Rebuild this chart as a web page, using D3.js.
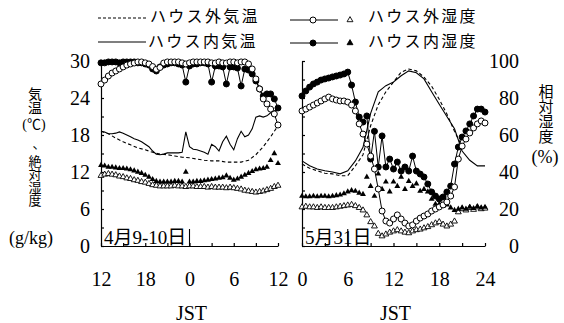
<!DOCTYPE html>
<html>
<head>
<meta charset="utf-8">
<script src="https://cdn.jsdelivr.net/npm/d3@7"></script>
<style>
  body { margin: 0; background: #fff; }
</style>
</head>
<body>
<svg id="chart" width="564" height="323"></svg>
<script>
// time axes (hours). left panel runs 12h on 4/9 to 12h on 4/10
const halfA = [12,12.5,13,13.5,14,14.5,15,15.5,16,16.5,17,17.5,18,18.5,19,19.5,20,20.5,21,21.5,22,22.5,23,23.5,24,24.5,25,25.5,26,26.5,27,27.5,28,28.5,29,29.5,30,30.5,31,31.5,32,32.5,33,33.5,34,34.5,35,35.5,36];
const hourA = [12,13,14,15,16,17,18,19,20,21,22,23,24,25,26,27,28,29,30,31,32,33,34,35,36];
const halfB = [0,0.5,1,1.5,2,2.5,3,3.5,4,4.5,5,5.5,6,6.5,7,7.5,8,8.5,9,9.5,10,10.5,11,11.5,12,12.5,13,13.5,14,14.5,15,15.5,16,16.5,17,17.5,18,18.5,19,19.5,20,20.5,21,21.5,22,22.5,23,23.5,24];
const hourB = [0,1,2,3,4,5,6,7,8,9,10,11,12,13,14,15,16,17,18,19,20,21,22,23,24];
const hourBOut = [0,1,2,3,4,5,6,7,8,9,10,11,12,13,14,15,16,17,18,19,20,21];

// 4/9-10
const tempOutA = [18.6,18.2,17.5,16.9,16.4,15.9,15.6,15.2,14.9,14.8,14.6,14.4,14.3,14.1,13.9,13.8,13.8,13.6,13.6,13.6,13.9,14.8,16.1,17.7,19.5];
const tempInA = [18.6,18.5,18.2,18.2,18.3,18.5,18.3,18.0,17.7,17.4,17.2,16.9,16.5,16.1,15.4,14.9,14.8,14.9,15.1,15.1,15.1,15.1,15.2,18.5,16.1,15.7,15.6,15.4,15.2,14.9,16.5,16.1,15.4,16.9,17.8,16.5,15.6,17.4,18.6,17.7,18.0,19.0,20.9,21.1,20.9,21.1,21.6,21.9,22.2];
const rhOutA = [87.6,89.7,91.9,93.5,94.6,95.7,96.8,97.8,98.4,98.9,99.5,99.5,99,98.4,97,95.5,96.5,98.9,99.5,99.5,99.5,99.5,99,98.4,99,99.5,99.5,99.5,99.5,99.5,99,98.9,99.5,99,98.9,99.5,99.5,99,99.5,99.5,98.4,95.7,90.3,84.9,79.5,76.8,74,71.4,65.4];
const rhInA = [99,99,99.5,99.5,99.5,99,99.5,99.5,99.5,99.5,99,99,98.4,97.8,95.7,94.6,96.8,97.8,98.4,99,99,98.4,97.8,88.6,97.3,98.4,98.4,99,99,98.4,88.6,97.3,97.3,96.8,87.6,96.8,96.8,96.2,86.5,95.7,95.1,93,89.2,84.9,81.1,82.2,82.2,79.5,74.6];
const ahOutA = [11.4,11.6,11.7,11.6,11.5,11.3,11.2,11.0,10.9,10.7,10.6,10.4,10.3,10.1,9.9,9.8,9.7,9.7,9.7,9.7,9.8,9.7,9.7,9.6,9.7,9.7,9.6,9.6,9.6,9.5,9.6,9.5,9.5,9.5,9.4,9.5,9.4,9.3,9.2,9.0,8.9,8.8,8.7,8.8,8.9,9.1,9.3,9.6,9.8];
const ahInA = [13.1,13.0,12.8,12.8,12.7,12.6,12.6,12.5,12.4,12.2,12.0,11.8,11.5,11.2,10.8,10.5,10.4,10.4,10.4,10.4,10.5,10.5,10.4,12.0,10.4,10.4,10.5,10.5,10.6,10.7,10.8,10.9,11.0,11.1,11.4,11.0,10.7,10.9,11.2,11.5,11.8,12.1,12.4,12.5,12.6,12.8,13.9,15.0,13.4];

// 5/31
const tempOutB = [13.3,12.6,12.2,11.8,11.7,11.4,11.4,13.0,14.8,19.5,22.9,25.0,26.6,28.2,28.7,28.4,27.4,25.9,23.8,21.4,18.6,16.1];
const tempInB = [13.8,13.0,12.5,12.2,12.0,11.7,12.2,13.8,16.0,21.5,25.0,26.0,26.6,27.6,28.4,28.1,27.1,25.0,23.0,21.0,19.0,15.4,13.9,13.0,13.0];
const rhOutB = [73,74,75.1,76.2,77.3,78.4,79.5,80.5,79.5,78.9,78.4,78.4,77.8,76.2,73,66,60.5,55.1,48.6,41.6,30.8,18.9,13.5,12.4,14.6,16.8,14.6,12.4,10.8,11.4,13.5,15.1,16.2,17.3,18.9,20,21.1,22.2,23.8,27,31.9,47,54,57.8,61.1,63.8,66,67.6,66.5];
const rhInB = [81.1,83.8,85.9,87.6,88.6,89.7,90.3,90.8,91.4,91.9,92.4,93,94,87,77.8,69.7,67,70.3,47,62,42.7,59.5,42.7,47,41.6,45.4,40.5,42.7,40.5,48.6,40.5,38.9,37.3,33.5,29.2,27,25.4,26.5,29.2,32.4,44.3,53.5,58.9,62.2,66,70.3,74,74,72.4];
const ahOutB = [6.3,6.4,6.3,6.3,6.2,6.3,6.2,6.2,6.2,6.3,6.4,6.5,6.6,6.7,6.5,6.2,5.8,5.0,3.9,3.2,2.0,1.6,1.9,2.2,2.4,2.6,2.4,2.2,2.1,2.4,2.6,2.7,2.9,3.1,3.4,3.7,3.9,3.5,3.2,3.5,4.0,5.5,6.0,5.8,6.2,5.9,6.3,6.0,6.1];
const ahInB = [8.1,8.0,8.0,8.1,8.0,8.1,8.1,8.0,8.1,8.2,8.3,8.5,8.8,9.0,8.9,8.6,8.4,11.2,9.7,8.1,11.7,9.2,10.4,8.8,10.4,9.7,11.2,9.2,10.5,9.7,10.1,8.9,9.2,8.8,7.6,6.8,6.8,6.5,6.7,6.2,5.8,6.0,6.2,6.0,6.3,6.1,6.4,6.2,6.3];

// ticks
const xTicksA = [12,15,18,21,24,27,30,33,36];
const xLabelsA = {12: '12', 18: '18', 24: '0', 30: '6', 36: '12'};
const xTicksB = [0,3,6,9,12,15,18,21,24];
const xLabelsB = {0: '0', 6: '6', 12: '12', 18: '18', 24: '24'};
const yTicksT = [0,3,6,9,12,15,18,21,24,27,30];
const yLabelsT = [0,6,12,18,24,30];
const yLabelsH = [0,20,40,60,80,100];

const SERIF = '"Liberation Serif", "Times New Roman", "DejaVu Serif", serif';
const MIX = '"Liberation Serif", "Times New Roman", "Noto Sans CJK JP", serif';
const JP = '"Noto Sans CJK JP", sans-serif';

const svg = d3.select('#chart');
svg.append('rect').attr('width', 564).attr('height', 323).attr('fill', '#fff');

const xA = d3.scaleLinear().domain([12, 36]).range([101, 278]);
const xB = d3.scaleLinear().domain([0, 24]).range([302, 485]);
const yT = d3.scaleLinear().domain([0, 30]).range([246, 61]);
const yH = d3.scaleLinear().domain([0, 100]).range([246, 61]);

const pts = (xs, ys) => xs.map((h, i) => [h, ys[i]]);

function styleAxis(g, size) {
  g.attr('font-size', size).attr('font-family', SERIF);
  g.selectAll('path, line').attr('stroke', '#000').attr('stroke-width', 1.2);
  g.selectAll('text').attr('fill', '#000');
}

// ---- axes
function drawAxes(x, xTicks, xLabels, showY) {
  svg.append('g')
    .attr('transform', `translate(0,${yT(0)})`)
    .call(d3.axisBottom(x).tickValues(xTicks).tickSizeInner(-3).tickSizeOuter(0).tickPadding(26)
      .tickFormat(v => xLabels[v] !== undefined ? xLabels[v] : ''))
    .call(g => styleAxis(g, 20));
  svg.append('g')
    .attr('transform', `translate(${x.range()[0]},0)`)
    .call(d3.axisLeft(yT).tickValues(yTicksT).tickSizeInner(-3).tickSizeOuter(0).tickPadding(11)
      .tickFormat(v => showY && yLabelsT.includes(v) ? v : ''))
    .call(g => styleAxis(g, 20));
}
drawAxes(xA, xTicksA, xLabelsA, true);
drawAxes(xB, xTicksB, xLabelsB, false);

// right hand labels (relative humidity)
svg.append('g')
  .attr('transform', 'translate(519,0)')
  .call(d3.axisLeft(yH).tickValues(yLabelsH).tickSize(0).tickPadding(0))
  .call(g => { g.select('.domain').remove(); g.selectAll('line').remove(); })
  .call(g => styleAxis(g, 20));

// ---- series
function drawPanel(x, d) {
  const p = svg.append('g');
  const lineT = d3.line().x(v => x(v[0])).y(v => yT(v[1]));
  const lineH = d3.line().x(v => x(v[0])).y(v => yH(v[1]));

  p.append('path').datum(pts(d.hOut, d.tOut))
    .attr('d', lineT).attr('fill', 'none').attr('stroke', '#000')
    .attr('stroke-width', 1.1).attr('stroke-dasharray', '3.5,2.5');
  p.append('path').datum(pts(d.hIn, d.tIn))
    .attr('d', lineT).attr('fill', 'none').attr('stroke', '#000').attr('stroke-width', 1.1);

  const tri = d3.symbol(d3.symbolTriangle).size(15);
  p.selectAll('.ahOut').data(pts(d.half, d.ahOut)).join('path')
    .attr('class', 'ahOut').attr('d', tri)
    .attr('transform', v => `translate(${x(v[0])},${yT(v[1])})`)
    .attr('fill', '#fff').attr('stroke', '#000').attr('stroke-width', 0.9);
  p.selectAll('.ahIn').data(pts(d.half, d.ahIn)).join('path')
    .attr('class', 'ahIn').attr('d', tri)
    .attr('transform', v => `translate(${x(v[0])},${yT(v[1])})`)
    .attr('fill', '#000');

  [['rhIn', '#000'], ['rhOut', '#fff']].forEach(([k, fill]) => {
    const data = pts(d.half, d[k]);
    p.append('path').datum(data)
      .attr('d', lineH).attr('fill', 'none').attr('stroke', '#000').attr('stroke-width', 1);
    p.selectAll('.' + k).data(data).join('circle')
      .attr('class', k)
      .attr('cx', v => x(v[0])).attr('cy', v => yH(v[1])).attr('r', 3)
      .attr('fill', fill).attr('stroke', '#000').attr('stroke-width', 1);
  });
}

drawPanel(xA, { half: halfA, hOut: hourA, hIn: halfA, tOut: tempOutA, tIn: tempInA,
  rhOut: rhOutA, rhIn: rhInA, ahOut: ahOutA, ahIn: ahInA });
drawPanel(xB, { half: halfB, hOut: hourBOut, hIn: hourB, tOut: tempOutB, tIn: tempInB,
  rhOut: rhOutB, rhIn: rhInB, ahOut: ahOutB, ahIn: ahInB });

// date boxes
[[xA, 12, 24, '4月9-10日'], [xB, 0, 6, '5月31日']].forEach(([x, h0, h1, label]) => {
  svg.append('line')
    .attr('x1', x(h1)).attr('x2', x(h1)).attr('y1', 229).attr('y2', yT(0))
    .attr('stroke', '#000').attr('stroke-width', 1.1);
  svg.append('text').attr('font-family', MIX)
    .attr('x', x(h0) + 3).attr('y', 237).attr('dominant-baseline', 'central')
    .attr('font-size', 19).text(label);
});

// x titles
[[xA, 24], [xB, 12]].forEach(([x, h]) => {
  svg.append('text').attr('font-family', SERIF)
    .attr('x', x(h) + 2).attr('y', 320).attr('text-anchor', 'middle')
    .attr('font-size', 20).text('JST');
});

// vertical titles
function vText(x, y, s, size) {
  svg.append('text').attr('x', x).attr('y', y)
    .attr('writing-mode', 'vertical-rl').attr('font-family', JP)
    .attr('font-size', size).text(s);
}
function hText(x, y, s, size, fam) {
  svg.append('text').attr('x', x).attr('y', y).attr('text-anchor', 'middle')
    .attr('dominant-baseline', 'central').attr('font-family', fam)
    .attr('font-size', size).text(s);
}
vText(35, 87, '気温', 14);
hText(34, 124, '(℃)', 14, MIX);
hText(39, 142, '、', 13, JP);
vText(35, 155, '絶対湿度', 13);
hText(31, 238, '(g/kg)', 18, SERIF);
vText(546, 84, '相対湿度', 15);
hText(545, 157, '(%)', 18, SERIF);

// ---- legend
const leg = svg.append('g');
leg.append('line').attr('x1', 98).attr('x2', 146).attr('y1', 18).attr('y2', 18)
  .attr('stroke', '#000').attr('stroke-width', 1.1).attr('stroke-dasharray', '3,2');
leg.append('line').attr('x1', 98).attr('x2', 146).attr('y1', 42).attr('y2', 42)
  .attr('stroke', '#000').attr('stroke-width', 1.1);
[['ハウス外気温', 150, 15], ['ハウス内気温', 148, 40], ['ハウス外湿度', 368, 15], ['ハウス内湿度', 368, 40]]
  .forEach(([t, x, y]) => {
    leg.append('text').attr('font-family', JP)
      .attr('x', x).attr('y', y).attr('dominant-baseline', 'central')
      .attr('font-size', 16).attr('letter-spacing', 2.3).text(t);
  });
[[20, '#fff'], [43, '#000']].forEach(([y, fill]) => {
  leg.append('line').attr('x1', 290).attr('x2', 338).attr('y1', y).attr('y2', y)
    .attr('stroke', '#000').attr('stroke-width', 1);
  leg.append('circle').attr('cx', 313).attr('cy', y).attr('r', 3)
    .attr('fill', fill).attr('stroke', '#000');
  leg.append('path').attr('d', d3.symbol(d3.symbolTriangle).size(15))
    .attr('transform', `translate(350,${y})`)
    .attr('fill', fill).attr('stroke', '#000').attr('stroke-width', 0.9);
});
</script>
</body>
</html>
